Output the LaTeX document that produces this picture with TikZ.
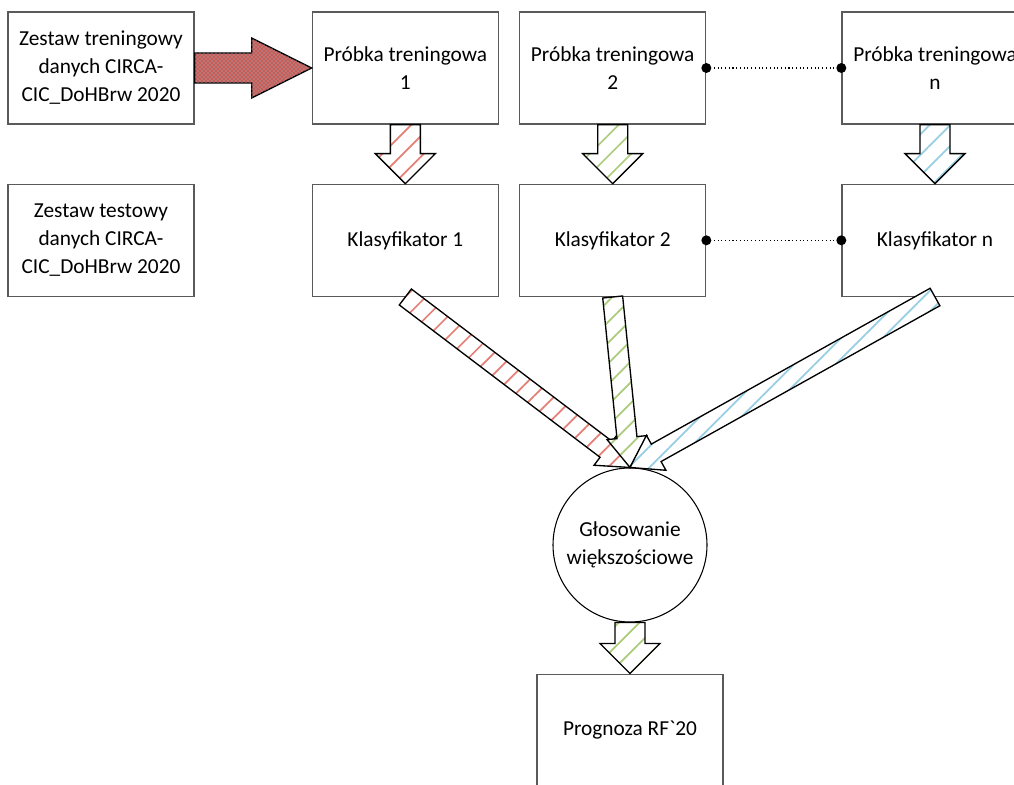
\documentclass[tikz,border=0pt]{standalone}
\usepackage{fontspec}
\setmainfont{Carlito}[Ligatures=TeXOff]
\usetikzlibrary{arrows.meta,positioning,calc,patterns,patterns.meta}
\definecolor{boxgray}{RGB}{90,90,90}
\definecolor{hatchred}{RGB}{228,128,118}
\definecolor{hatchgreen}{RGB}{172,204,124}
\definecolor{hatchblue}{RGB}{152,206,228}
\definecolor{arrowred}{RGB}{200,92,86}
\definecolor{dotblue}{RGB}{140,205,225}
% block arrow: [style]{from}{to}{shaft half width}{head half width}{head length}
\newcommand{\blockarrow}[6][]{%
  \coordinate (ba) at ($(#3)!#6!(#2)$);
  \draw[#1] ($(#2)!#4!90:(#3)$) -- ($(ba)!#4!-90:(#2)$) -- ($(ba)!#5!-90:(#2)$) -- (#3)
    -- ($(ba)!#5!90:(#2)$) -- ($(ba)!#4!90:(#2)$) -- ($(#2)!#4!-90:(#3)$) -- cycle;}

\begin{document}
\begin{tikzpicture}[font=\fontsize{16pt}{21pt}\selectfont, node distance=44.25pt,
box/.style={draw=boxgray, line width=1pt, minimum width=139.5pt, minimum height=84pt, inner sep=0pt, align=center},
vote/.style={draw, circle, line width=0.8pt, minimum size=115.5pt, inner sep=0pt, align=center},
harrow/.style={draw, line width=1pt, line join=miter, preaction={fill=white}, pattern={Lines[angle=45,distance=11pt,line width=1.3pt]}, pattern color=#1},
link/.style={dotted, line width=0.8pt}]
\useasboundingbox (0,0) rectangle (760.5pt,588.75pt);
\node[box] (train) at (75.75pt,537.75pt) {Zestaw treningowy\\danych CIRCA-\\CIC\_DoHBrw 2020};
\node[box, right=87.75pt of train] (p1) {Próbka treningowa\\1};
\node[box, right=15pt of p1] (p2) {Próbka treningowa\\2};
\node[box, right=101.25pt of p2] (pn) {Próbka treningowa\\n};
\node[box, below=of train] (test) {Zestaw testowy\\danych CIRCA-\\CIC\_DoHBrw 2020};
\node[box, below=of p1] (k1) {Klasyfikator 1};
\node[box, below=of p2] (k2) {Klasyfikator 2};
\node[box, below=of pn] (kn) {Klasyfikator n};
\node[vote] (glos) at (472.5pt,180pt) {Głosowanie\\większościowe};
\node[box, below=38.25pt of glos] (rf) {Prognoza RF`20};
% dotted links
\draw[link] (p2.east) -- (pn.west);
\draw[link] (k2.east) -- (kn.west);
\foreach \n in {p2.east,pn.west,k2.east,kn.west}
  \fill (\n) circle (3.75pt);
% arrows
\blockarrow[draw, line width=1pt, line join=miter, fill=arrowred, postaction={pattern=crosshatch dots, pattern color=dotblue}]{train.east}{p1.west}{11.25pt}{22.5pt}{45pt}
\blockarrow[harrow=hatchred]{p1.south}{k1.north}{11.25pt}{22.5pt}{22.5pt}
\blockarrow[harrow=hatchgreen]{p2.south}{k2.north}{11.25pt}{22.5pt}{22.5pt}
\blockarrow[harrow=hatchblue]{pn.south}{kn.north}{11.25pt}{22.5pt}{22.5pt}
\blockarrow[harrow=hatchred]{k1.south}{glos.north}{7.5pt}{15pt}{22.5pt}
\blockarrow[harrow=hatchgreen]{k2.south}{glos.north}{7.5pt}{15pt}{22.5pt}
\blockarrow[harrow=hatchblue]{kn.south}{glos.north}{7.5pt}{15pt}{22.5pt}
\blockarrow[harrow=hatchgreen]{glos.south}{rf.north}{11.25pt}{22.5pt}{22.5pt}
\end{tikzpicture}
\end{document}
